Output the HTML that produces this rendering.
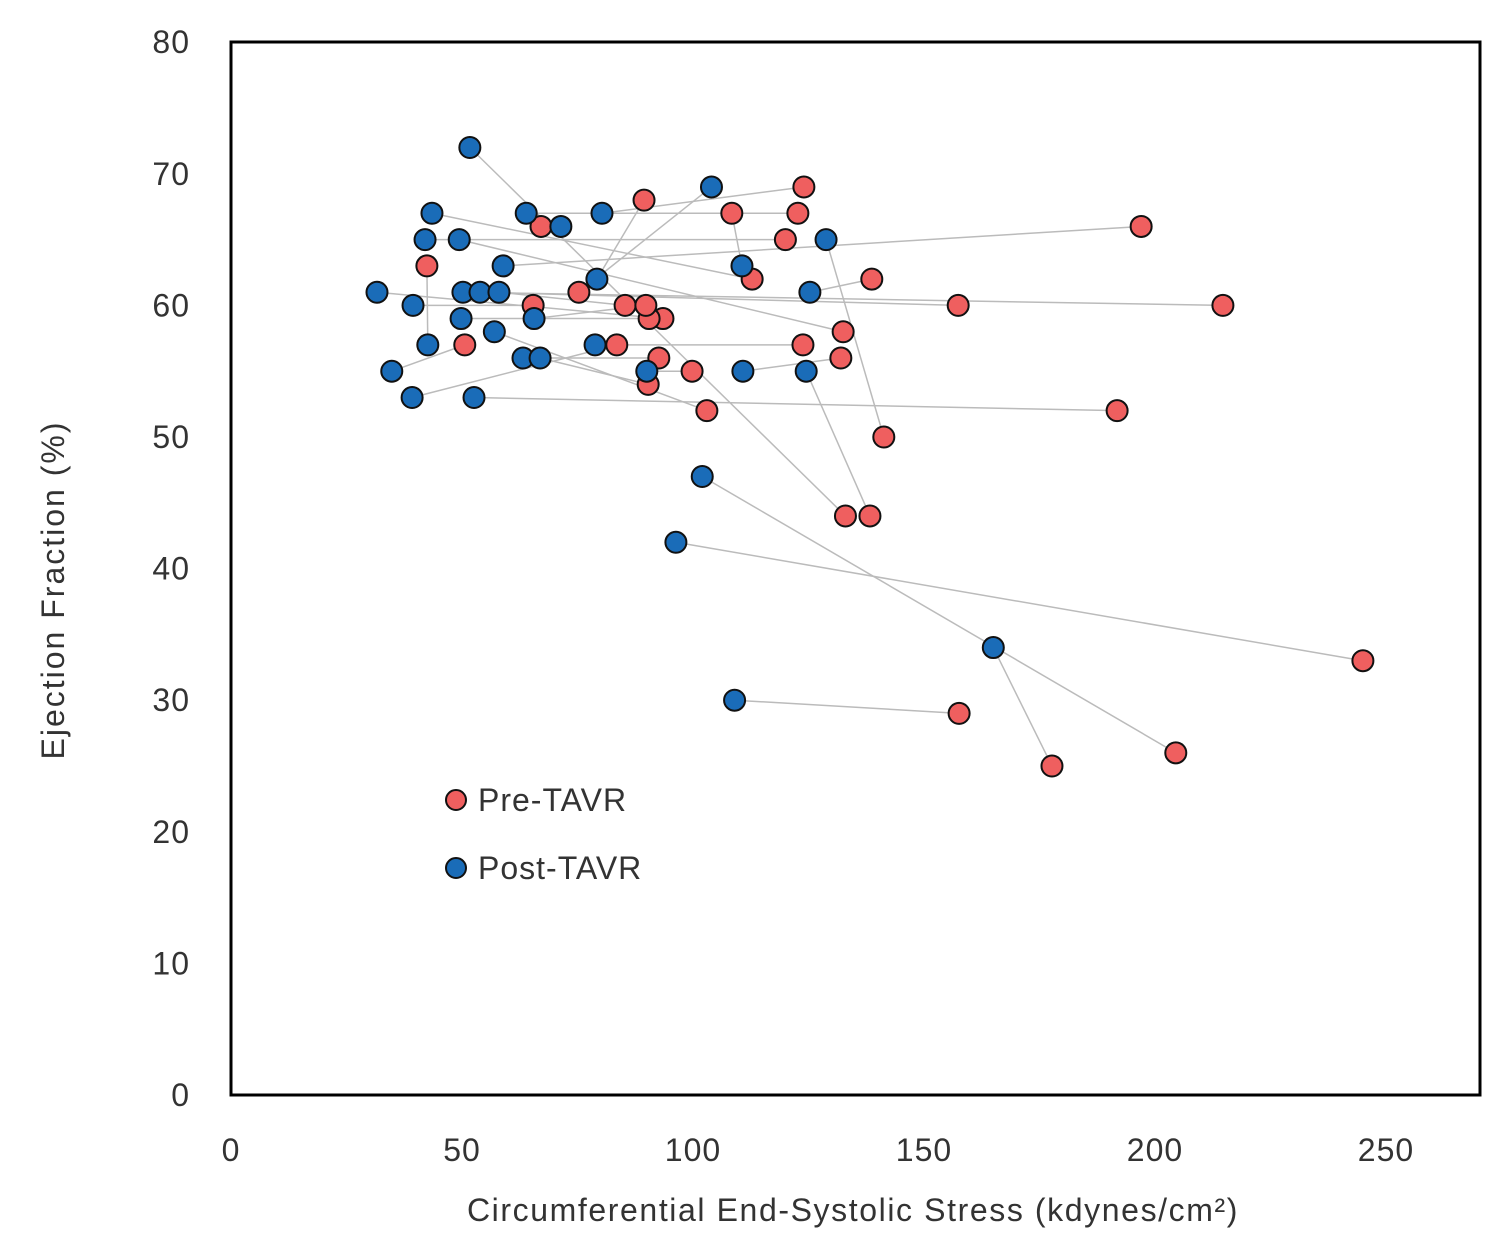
<!DOCTYPE html>
<html><head><meta charset="utf-8"><style>
body{margin:0;background:#fff}
svg{display:block;font-family:"Liberation Sans",sans-serif}
</style></head><body>
<svg id="c" width="1500" height="1255" viewBox="0 0 1500 1255">
<rect x="231" y="42" width="1249" height="1053" fill="#fff" stroke="#000" stroke-width="3"/>
<g id="ticks"></g><g id="lines"></g><g id="pts"></g>
<text x="64" y="590" transform="rotate(-90 64 590)" text-anchor="middle" font-size="32" letter-spacing="2" fill="#333">Ejection Fraction (%)</text>
<text x="853" y="1221" text-anchor="middle" font-size="32" letter-spacing="1.6" fill="#333">Circumferential End-Systolic Stress (kdynes/cm²)</text>
<g><circle cx="456" cy="800" r="10" fill="#ef5f5f" stroke="#111" stroke-width="2"/><text x="478" y="811" font-size="32" letter-spacing="1" fill="#333">Pre-TAVR</text></g>
<g><circle cx="456" cy="868" r="10" fill="#1a6cb8" stroke="#111" stroke-width="2"/><text x="478" y="879" font-size="32" letter-spacing="1" fill="#333">Post-TAVR</text></g>
</svg>
<script>
const xTicks=[0,50,100,150,200,250];
const yTicks=[0,10,20,30,40,50,60,70,80];
const postX=[31.6,34.8,39.2,39.4,42,42.6,43.5,49.4,49.8,50.2,51.7,52.6,53.9,57,58,58.9,63.2,63.9,65.6,66.9,71.4,79.2,78.8,80.3,90,96.3,102,104,109,110.6,110.8,124.5,125.3,128.8,165];
const postY=[61,55,53,60,65,57,67,65,59,61,72,53,61,58,61,63,56,67,59,56,66,62,57,67,55,42,47,69,30,63,55,55,61,65,34];
const preX=[93.5,50.6,83.5,65.4,120,42.4,112.8,132.5,90.5,214.7,133,191.8,157.4,103,85.3,197,92.6,122.7,89.8,90.3,67.1,89.4,123.8,124,99.8,245,204.5,75.3,157.6,108.4,132,138.3,138.7,141.3,177.7];
const preY=[59,57,57,60,65,63,62,58,59,60,44,52,60,52,60,66,56,67,60,54,66,68,57,69,55,33,26,61,29,67,56,44,62,50,25];
const X=v=>231+v*4.62, Y=v=>1095-v*13.16;
const NS="http://www.w3.org/2000/svg";
function mk(t,a,p){const e=document.createElementNS(NS,t);for(const k in a)e.setAttribute(k,a[k]);p.appendChild(e);return e;}
const tg=document.getElementById('ticks');
xTicks.forEach(v=>{const t=mk('text',{x:X(v),y:1161,'text-anchor':'middle','font-size':32,'letter-spacing':1,fill:'#333'},tg);t.textContent=v;

});
yTicks.forEach(v=>{const t=mk('text',{x:190,y:Y(v)+11,'text-anchor':'end','font-size':32,'letter-spacing':1,fill:'#333'},tg);t.textContent=v;

});
const lg=document.getElementById('lines'),pg=document.getElementById('pts');
postX.forEach((_,i)=>{const l=mk('line',{x1:X(postX[i]),y1:Y(postY[i]),x2:X(preX[i]),y2:Y(preY[i]),stroke:'#bbb','stroke-width':1.5},lg);

});
preX.forEach((_,i)=>{const c=mk('circle',{cx:X(preX[i]),cy:Y(preY[i]),r:10.5,fill:'#ef5f5f',stroke:'#111','stroke-width':2},pg);

});
postX.forEach((_,i)=>{const c=mk('circle',{cx:X(postX[i]),cy:Y(postY[i]),r:10.5,fill:'#1a6cb8',stroke:'#111','stroke-width':2},pg);

});
</script>
</body></html>
